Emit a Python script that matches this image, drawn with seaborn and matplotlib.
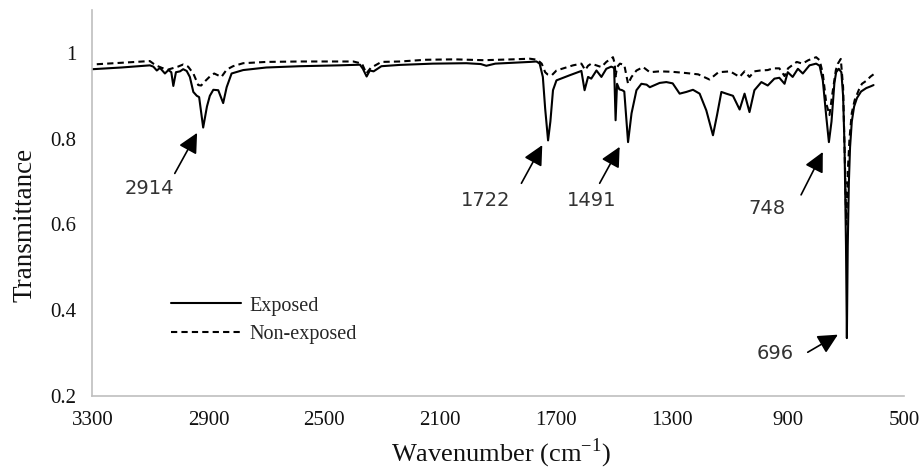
import matplotlib
matplotlib.use("Agg")
import matplotlib.pyplot as plt
import seaborn as sns
import pandas as pd
from matplotlib.ticker import FuncFormatter

# ---------------- data ----------------
wn_exposed = [3300, 3200, 3102, 3090, 3078, 3067, 3050, 3038, 3028, 3021, 3012, 2998, 2987, 2975,
              2964, 2952, 2940, 2932, 2918, 2905, 2895, 2883, 2866, 2849, 2837, 2820, 2780, 2700,
              2584, 2450, 2377, 2367, 2354, 2343, 2330, 2303, 2240, 2126, 2010, 1960, 1941, 1910,
              1850, 1791, 1768, 1757, 1746, 1738, 1728, 1720, 1711, 1699, 1653, 1613, 1602, 1590,
              1579, 1561, 1544, 1527, 1510, 1500, 1495, 1490, 1482, 1472, 1465, 1452, 1440, 1423,
              1406, 1388, 1377, 1343, 1320, 1298, 1274, 1251, 1228, 1205, 1182, 1159, 1145, 1130,
              1113, 1090, 1067, 1050, 1033, 1016, 992, 970, 947, 930, 912, 901, 884, 866, 849,
              826, 803, 791, 780, 768, 759, 750, 740, 734, 725, 716, 710, 705, 700, 697, 694, 690,
              686, 680, 672, 662, 648, 630, 615, 605]
t_exposed = [0.962, 0.966, 0.971, 0.968, 0.959, 0.965, 0.952, 0.960, 0.955, 0.923, 0.955, 0.957, 0.962, 0.958,
             0.944, 0.909, 0.900, 0.897, 0.826, 0.875, 0.900, 0.914, 0.913, 0.883, 0.920, 0.952, 0.960, 0.966,
             0.969, 0.971, 0.9725, 0.963, 0.945, 0.959, 0.957, 0.969, 0.972, 0.975, 0.976, 0.974, 0.970, 0.975,
             0.977, 0.979, 0.980, 0.975, 0.944, 0.870, 0.796, 0.840, 0.913, 0.936, 0.948, 0.958, 0.913, 0.944,
             0.940, 0.959, 0.944, 0.963, 0.968, 0.965, 0.843, 0.928, 0.915, 0.913, 0.910, 0.792, 0.859, 0.913,
             0.928, 0.926, 0.920, 0.930, 0.932, 0.929, 0.905, 0.909, 0.914, 0.905, 0.866, 0.808, 0.855, 0.909,
             0.905, 0.900, 0.868, 0.905, 0.862, 0.913, 0.932, 0.924, 0.940, 0.942, 0.928, 0.955, 0.944, 0.963, 0.952,
             0.971, 0.975, 0.970, 0.936, 0.851, 0.792, 0.840, 0.930, 0.955, 0.963, 0.955, 0.900, 0.780, 0.550, 0.335, 0.550, 0.700,
             0.780, 0.840, 0.875, 0.895, 0.910, 0.918, 0.922, 0.925]

wn_nonexposed = [3300, 3200, 3102, 3090, 3078, 3060, 3040, 3020, 3005, 2987, 2970, 2952, 2935, 2925,
                 2910, 2895, 2880, 2855, 2837, 2815, 2780, 2700, 2584, 2400, 2370, 2355, 2340, 2303,
                 2240, 2150, 2050, 1950, 1850, 1791, 1765, 1750, 1738, 1730, 1715, 1699, 1642, 1613,
                 1600, 1590, 1579, 1544, 1527, 1504, 1498, 1495, 1490, 1480, 1465, 1452, 1440, 1423,
                 1400, 1377, 1343, 1300, 1251, 1210, 1171, 1140, 1100, 1067, 1050, 1033, 1016, 996,
                 970, 952, 930, 912, 900, 870, 850, 830, 803, 791, 780, 768, 757, 747, 735, 728, 718,
                 710, 704, 699, 694, 688, 680, 670, 655, 645, 630, 615, 605]
t_nonexposed = [0.973, 0.977, 0.981, 0.975, 0.970, 0.965, 0.961, 0.965, 0.968, 0.973, 0.968, 0.952, 0.925, 0.924,
                0.935, 0.945, 0.952, 0.944, 0.961, 0.969, 0.976, 0.979, 0.980, 0.980, 0.975, 0.952, 0.965, 0.979,
                0.980, 0.984, 0.985, 0.983, 0.985, 0.9865, 0.984, 0.975, 0.955, 0.950, 0.948, 0.959, 0.971, 0.975,
                0.960, 0.970, 0.975, 0.967, 0.979, 0.990, 0.975, 0.945, 0.967, 0.975, 0.972, 0.928, 0.944, 0.959,
                0.967, 0.955, 0.957, 0.956, 0.953, 0.950, 0.938, 0.955, 0.957, 0.944, 0.957, 0.944, 0.957, 0.959,
                0.960, 0.964, 0.964, 0.946, 0.964, 0.979, 0.975, 0.983, 0.990, 0.983, 0.952, 0.882, 0.855, 0.905, 0.960, 0.975, 0.986,
                0.920, 0.750, 0.600, 0.720, 0.800, 0.860, 0.890, 0.915, 0.928, 0.935, 0.945, 0.950]

series_names = ["Exposed", "Non-exposed"]
x_ticks = [3300, 2900, 2500, 2100, 1700, 1300, 900, 500]
y_ticks = [0.2, 0.4, 0.6, 0.8, 1.0]
peak_labels = ["2914", "1722", "1491", "748", "696"]

# annotation layout (text centre, arrow tail, arrow tip) in data coordinates
annot_layout = [
    ((3102, 0.684), (3016, 0.719), (2939, 0.8135)),
    ((1943, 0.655), (1820, 0.696), (1748, 0.785)),
    ((1579, 0.657), (1550, 0.696), (1481, 0.781)),
    ((972, 0.637), (855, 0.669), (780, 0.769)),
    ((943, 0.299), (832, 0.302), (728, 0.343)),
]

# ---------------- plotting ----------------
sns.set_style("white")
plt.rcParams["font.family"] = ["Liberation Serif", "DejaVu Serif"]

df = pd.concat([
    pd.DataFrame({"Wavenumber": wn_exposed, "Transmittance": t_exposed, "Sample": series_names[0]}),
    pd.DataFrame({"Wavenumber": wn_nonexposed, "Transmittance": t_nonexposed, "Sample": series_names[1]}),
])

fig = plt.figure(figsize=(9.21, 4.73), dpi=100)
ax = fig.add_axes([0.1004, 0.1628, 0.8811, 0.8160])

sns.lineplot(data=df, x="Wavenumber", y="Transmittance", hue="Sample", style="Sample",
             palette={series_names[0]: "black", series_names[1]: "black"},
             dashes={series_names[0]: "", series_names[1]: (3, 2)},
             estimator=None, sort=True, linewidth=1.5, ax=ax)

ax.set_xlim(3300, 500)
ax.set_ylim(0.2, 1.1)
ax.set_xticks(x_ticks)
ax.set_yticks(y_ticks)
ax.yaxis.set_major_formatter(FuncFormatter(lambda v, p: f"{v:g}"))

for s in ["top", "right"]:
    ax.spines[s].set_visible(False)
for s in ["left", "bottom"]:
    ax.spines[s].set_color("#BFBFBF")
    ax.spines[s].set_linewidth(1.2)
ax.tick_params(axis="both", which="major", direction="out", length=4.5, width=1.2,
               color="#BFBFBF", labelsize=15, labelcolor="#111111")
ax.tick_params(axis="x", pad=6)
ax.tick_params(axis="y", pad=7)

ax.set_xlabel("Wavenumber (cm$^{\\mathregular{-1}}$)", fontsize=19, color="#111111")
ax.set_ylabel("Transmittance", fontsize=19.5, color="#111111")
ax.yaxis.set_label_coords(-0.068, 0.443)
ax.xaxis.set_label_coords(0.503, -0.105)

leg = ax.legend(loc="upper left", bbox_to_anchor=(0.097, 0.258), frameon=False,
                borderpad=0, borderaxespad=0, handlelength=3.45, handletextpad=0.45,
                labelspacing=0.48, fontsize=14.5)
for h in leg.get_lines():
    h.set_linewidth(1.5)

for lab, (tpos, tail, tip) in zip(peak_labels, annot_layout):
    ax.annotate("", xy=tip, xytext=tail,
                arrowprops=dict(arrowstyle="-|>,head_length=0.6,head_width=0.3",
                                mutation_scale=20, lw=1.2, color="black",
                                shrinkA=0, shrinkB=0))
    ax.text(tpos[0], tpos[1], lab, ha="center", va="center", fontsize=14,
            family=["DejaVu Sans"], color="#333333")

fig.savefig("out.png", dpi=100)
